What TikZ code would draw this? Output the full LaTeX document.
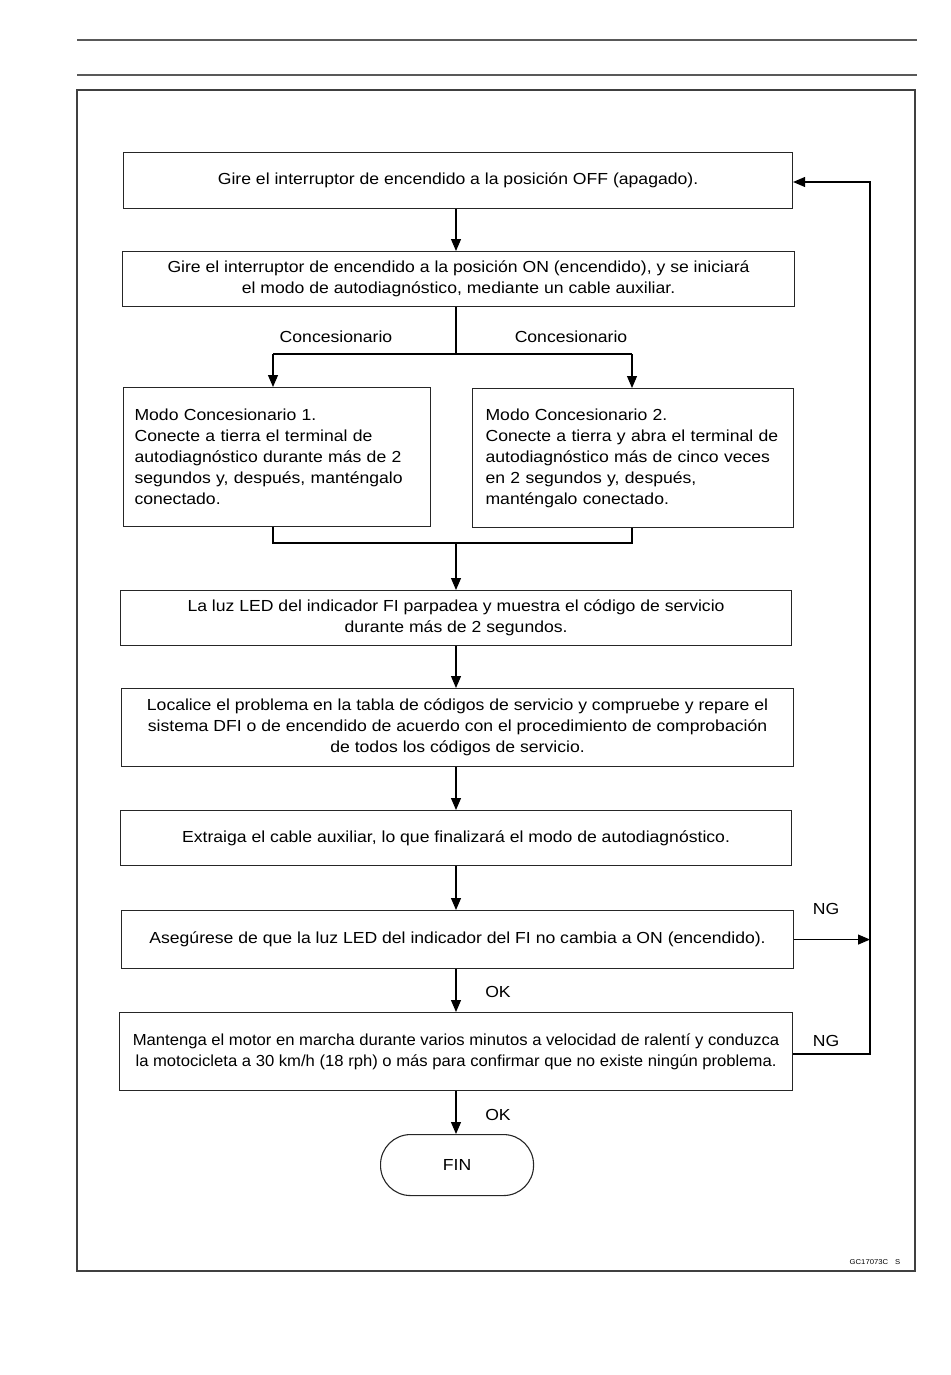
\documentclass[tikz,border=0pt]{standalone}
\usepackage{fontspec}
\setmainfont{Liberation Sans}[FakeStretch=1.1]
\newfontfamily\narrowfnt{Liberation Sans}[FakeStretch=1.04]
\usetikzlibrary{arrows.meta}
\begin{document}
\begin{tikzpicture}[x=1pt,y=-1pt,
  txt/.style={font=\fontsize{16}{21}\selectfont},
  box/.style={draw=black!85, line width=1.1pt, anchor=north west, inner sep=0pt, align=center, txt},
  lbox/.style={box, align=left, inner xsep=11pt},
  conn/.style={draw=black, line width=1.1pt},
  arr/.style={conn, -{Triangle[length=12pt,width=10pt]}},
  lab/.style={txt, inner sep=0pt}
]
\useasboundingbox (0,0) rectangle (950,1375);
% header rules and frame
\draw[black!65, line width=1.4pt] (77,40) -- (917,40);
\draw[black!65, line width=1.4pt] (77,75) -- (917,75);
\draw[black!75, line width=1.2pt] (77,90) rectangle (915,1271);

\node[box, minimum width=669pt, minimum height=56pt] (b1) at (123,152)
  {Gire el interruptor de encendido a la posición OFF (apagado).};
\node[box, minimum width=672pt, minimum height=55pt] (b2) at (122,251)
  {Gire el interruptor de encendido a la posición ON (encendido), y se iniciará\\
   el modo de autodiagnóstico, mediante un cable auxiliar.};
\node[lbox, text width=285pt, minimum height=139pt] (b3) at (123,387)
  {Modo Concesionario 1.\\
   Conecte a tierra el terminal de\\
   autodiagnóstico durante más de 2\\
   segundos y, después, manténgalo\\
   conectado.};
\node[lbox, inner xsep=13pt, text width=295pt, minimum height=139pt] (b4) at (472,388)
  {Modo Concesionario 2.\\
   Conecte a tierra y abra el terminal de\\
   autodiagnóstico más de cinco veces\\
   en 2 segundos y, después,\\
   manténgalo conectado.};
\node[box, minimum width=671pt, minimum height=55pt] (b5) at (120,590)
  {La luz LED del indicador FI parpadea y muestra el código de servicio\\
   durante más de 2 segundos.};
\node[box, minimum width=672pt, minimum height=78pt] (b6) at (121,688)
  {Localice el problema en la tabla de códigos de servicio y compruebe y repare el\\
   sistema DFI o de encendido de acuerdo con el procedimiento de comprobación\\
   de todos los códigos de servicio.};
\node[box, minimum width=671pt, minimum height=55pt] (b7) at (120,810)
  {Extraiga el cable auxiliar, lo que finalizará el modo de autodiagnóstico.};
\node[box, minimum width=672pt, minimum height=58pt] (b8) at (121,910)
  {Asegúrese de que la luz LED del indicador del FI no cambia a ON (encendido).};
\node[box, minimum width=673pt, minimum height=78pt, font=\narrowfnt\fontsize{16}{21}\selectfont] (b9) at (119,1012)
  {Mantenga el motor en marcha durante varios minutos a velocidad de ralentí y conduzca\\
   la motocicleta a 30 km/h (18 rph) o más para confirmar que no existe ningún problema.};
\node[box, rounded corners=30pt, minimum width=153pt, minimum height=61pt] (fin) at (380,1134) {FIN};

% helper coordinates
\coordinate (cx) at (456,0);
\coordinate (sp) at (456,354);
\coordinate (l1) at (273,354);
\coordinate (r1) at (632,354);
\coordinate (mg) at (456,543);
\coordinate (rt) at (870,182);

% connectors
\draw[arr] (b1.south -| cx) -- (b2.north -| cx);
\draw[conn] (b2.south -| cx) -- (sp);
\draw[conn] (l1) -- (r1);
\draw[arr] (l1) -- (b3.north -| l1);
\draw[arr] (r1) -- (b4.north -| r1);
\draw[conn] (b3.south -| l1) -- (l1 |- mg) -- (r1 |- mg) -- (b4.south -| r1);
\draw[arr] (mg) -- (b5.north -| cx);
\draw[arr] (b5.south -| cx) -- (b6.north -| cx);
\draw[arr] (b6.south -| cx) -- (b7.north -| cx);
\draw[arr] (b7.south -| cx) -- (b8.north -| cx);
\draw[arr] (b8.south -| cx) -- (b9.north -| cx);
\draw[arr] (b9.south -| cx) -- (fin.north -| cx);
\draw[arr] (b8.east) -- (b8.east -| rt);
\draw[arr] (b9.east |- 0,1054) -| (rt) -- (b1.east |- rt);

% labels
\node[lab] (c1) at (336,337) {Concesionario};
\node[lab] (c2) at (571,337) {Concesionario};
\node[lab] (ng1) at (826,909) {NG};
\node[lab] (ng2) at (826,1041) {NG};
\node[lab] (ok1) at (498,992) {OK};
\node[lab] (ok2) at (498,1115) {OK};
\node[inner sep=0pt, font=\fontsize{7}{8}\selectfont] (code) at (875,1262) {GC17073C\quad S};
\end{tikzpicture}
\end{document}
